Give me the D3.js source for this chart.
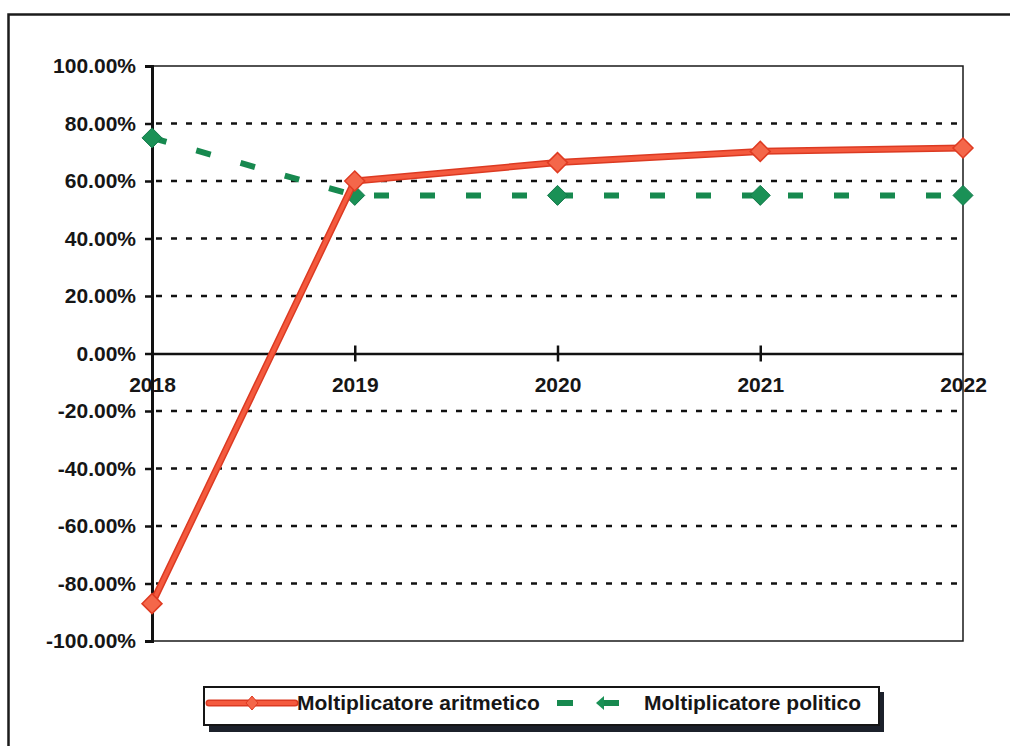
<!DOCTYPE html>
<html>
<head>
<meta charset="utf-8">
<script src="https://cdn.jsdelivr.net/npm/d3@7"></script>
<style>
  html, body { margin: 0; padding: 0; background: #fff; }
  svg { display: block; }
  text { font-family: "Liberation Sans", Arial, sans-serif; font-weight: bold; fill: #161616; }
</style>
</head>
<body>
<svg id="chart" width="1010" height="746"></svg>
<script>
// Years on the category axis
const years = ["2018", "2019", "2020", "2021", "2022"];
// Series values (fractions)
const aritmetico = [-0.87, 0.60, 0.664, 0.703, 0.715];
const politico = [0.75, 0.55, 0.55, 0.55, 0.55];
// Y axis ticks
const yTicks = [-1, -0.8, -0.6, -0.4, -0.2, 0, 0.2, 0.4, 0.6, 0.8, 1];
const seriesNames = ["Moltiplicatore aritmetico", "Moltiplicatore politico"];

const svg = d3.select("#chart");
const plot = { left: 152, right: 963, top: 66, bottom: 641 };

const x = d3.scalePoint().domain(years).range([plot.left, plot.right]).padding(0);
const y = d3.scaleLinear().domain([-1, 1]).range([plot.bottom, plot.top]);
// percent with two decimals and a plain hyphen for negatives
const fmt = d => (d * 100).toFixed(2) + "%";

// outer frame
svg.append("rect")
  .attr("x", 8.5).attr("y", 14.5).attr("width", 1010).attr("height", 745)
  .attr("fill", "#fff").attr("stroke", "#1b1b1b").attr("stroke-width", 2.5);

// dotted gridlines
svg.append("g").selectAll("line")
  .data(yTicks.filter(t => t !== 0 && Math.abs(t) !== 1))
  .join("line")
  .attr("x1", plot.left + 4).attr("x2", plot.right)
  .attr("y1", d => y(d)).attr("y2", d => y(d))
  .attr("stroke", "#111").attr("stroke-width", 2.5)
  .attr("stroke-dasharray", "6,9");

// plot frame (top, right, bottom)
svg.append("path")
  .attr("d", `M${plot.left},${plot.top}H${plot.right}V${plot.bottom}H${plot.left}`)
  .attr("fill", "none").attr("stroke", "#1a1a1a").attr("stroke-width", 1.5);

// y axis
const yAxis = svg.append("g")
  .attr("transform", `translate(${plot.left},0)`)
  .call(d3.axisLeft(y).tickValues(yTicks).tickFormat(fmt).tickSize(7).tickPadding(9));
yAxis.select(".domain").attr("stroke", "#111").attr("stroke-width", 3);
yAxis.selectAll(".tick line").attr("stroke", "#111").attr("stroke-width", 2.5);
yAxis.selectAll(".tick text")
  .style("font-size", "21px").style("font-family", "'Liberation Sans', Arial, sans-serif")
  .style("font-weight", "bold").attr("fill", "#161616");

// zero axis with category labels
const xAxis = svg.append("g")
  .attr("transform", `translate(0,${y(0)})`)
  .call(d3.axisBottom(x).tickSizeInner(0).tickSizeOuter(0).tickPadding(24));
xAxis.select(".domain").attr("stroke", "#111").attr("stroke-width", 2.5);
xAxis.selectAll(".tick text")
  .style("font-size", "21px").style("font-family", "'Liberation Sans', Arial, sans-serif")
  .style("font-weight", "bold").attr("fill", "#161616");
xAxis.selectAll(".tick").filter(d => d !== years[0] && d !== years[years.length - 1]).append("line")
  .attr("y1", -8).attr("y2", 8).attr("stroke", "#111").attr("stroke-width", 2.5);

const diamond = (cx, cy, r) => `M${cx},${cy - r}L${cx + r},${cy}L${cx},${cy + r}L${cx - r},${cy}Z`;
const line = d3.line().x((d, i) => x(years[i])).y(d => y(d));

// Moltiplicatore politico: green dashed line
svg.append("path")
  .datum(politico)
  .attr("d", line)
  .attr("fill", "none").attr("stroke", "#17894f").attr("stroke-width", 6)
  .attr("stroke-dasharray", "15,31");
svg.append("g").selectAll("path")
  .data(politico)
  .join("path")
  .attr("d", (d, i) => diamond(x(years[i]), y(d), 10))
  .attr("fill", "#1a9156").attr("stroke", "#12784a").attr("stroke-width", 1);

// Moltiplicatore aritmetico: red solid line
svg.append("path")
  .datum(aritmetico)
  .attr("d", line)
  .attr("fill", "none").attr("stroke", "#dc3a22").attr("stroke-width", 7)
  .attr("stroke-linejoin", "round");
svg.append("path")
  .datum(aritmetico)
  .attr("d", line)
  .attr("fill", "none").attr("stroke", "#f45a3e").attr("stroke-width", 4)
  .attr("stroke-linejoin", "round");
svg.append("g").selectAll("path")
  .data(aritmetico)
  .join("path")
  .attr("d", (d, i) => diamond(x(years[i]), y(d), 10))
  .attr("fill", "#f4674a").attr("stroke", "#df3b22").attr("stroke-width", 1.5);

// legend
const lg = svg.append("g");
lg.append("rect").attr("x", 209).attr("y", 692).attr("width", 675).attr("height", 40).attr("fill", "#1c212b");
lg.append("rect").attr("x", 204).attr("y", 687).attr("width", 675).attr("height", 38)
  .attr("fill", "#fff").attr("stroke", "#151515").attr("stroke-width", 2);
const ly = 703;
lg.append("line").attr("x1", 209).attr("x2", 295).attr("y1", ly).attr("y2", ly)
  .attr("stroke", "#dc3a22").attr("stroke-width", 7).attr("stroke-linecap", "round");
lg.append("line").attr("x1", 209).attr("x2", 295).attr("y1", ly).attr("y2", ly)
  .attr("stroke", "#f45a3e").attr("stroke-width", 4).attr("stroke-linecap", "round");
lg.append("path").attr("d", `M252,${ly - 7}L258,${ly}L252,${ly + 7}L246,${ly}Z`)
  .attr("fill", "#f4674a").attr("stroke", "#df3b22").attr("stroke-width", 1);
lg.append("text").attr("x", 297).attr("y", 710).style("font-size", "21px").text(seriesNames[0]);

lg.append("line").attr("x1", 557).attr("x2", 573).attr("y1", ly).attr("y2", ly)
  .attr("stroke", "#17894f").attr("stroke-width", 6);
lg.append("line").attr("x1", 603).attr("x2", 619).attr("y1", ly).attr("y2", ly)
  .attr("stroke", "#17894f").attr("stroke-width", 6);
lg.append("path").attr("d", `M604,${ly - 7}L604,${ly + 7}L596,${ly}Z`)
  .attr("fill", "#1a9156");
lg.append("text").attr("x", 644).attr("y", 710).style("font-size", "21px").text(seriesNames[1]);
</script>
</body>
</html>
